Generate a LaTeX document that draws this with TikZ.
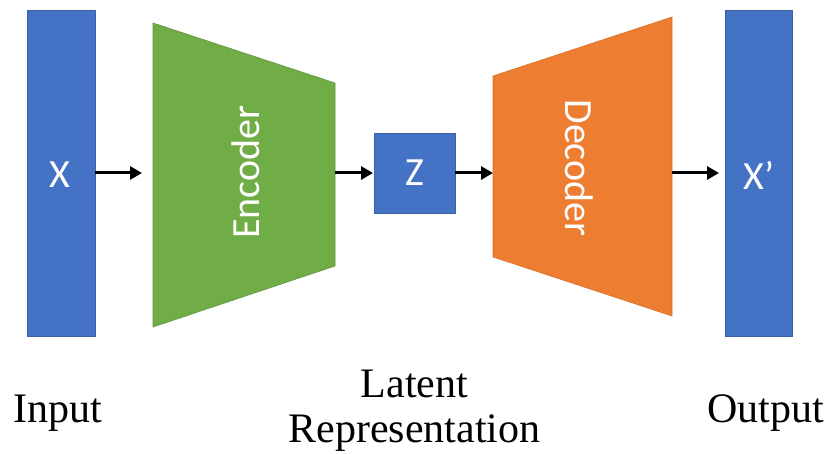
\documentclass[tikz,border=0pt]{standalone}
\usepackage{fontspec}
\setmainfont{Liberation Serif}
\newfontfamily\boxfont{Carlito}
\usetikzlibrary{arrows.meta}
\definecolor{officeblue}{HTML}{4472C4}
\definecolor{officegreen}{HTML}{70AD47}
\definecolor{officeorange}{HTML}{ED7D31}
\begin{document}
\begin{tikzpicture}[x=1pt,y=-1pt,
  bluebox/.style={draw=officeblue!85!black, line width=0.6pt, fill=officeblue,
    inner sep=0pt, text=white, font=\boxfont\fontsize{40}{44}\selectfont},
  layerlabel/.style={text=white, inner sep=0pt, font=\boxfont\fontsize{40}{44}\selectfont},
  caption/.style={inner sep=0pt, anchor=base, font=\fontsize{42}{45}\selectfont},
  flow/.style={line width=3pt, -{Triangle[length=12pt,width=13pt]}}]
  % canvas
  \useasboundingbox (0,0) rectangle (827,454);

  % input and output vectors, latent code
  \node[bluebox, minimum width=68pt, minimum height=326pt] (xin) at (61,173) {};
  \node[bluebox, minimum width=81pt, minimum height=80pt] (z) at (414.5,173) {Z};
  \node[bluebox, minimum width=67pt, minimum height=326pt] (xout) at (758.5,173) {};
  \node[layerlabel] (xintext) at (60,175) {X};
  \node[layerlabel] (xouttext) at (759,175) {X’};

  % encoder and decoder trapezoids
  \path[fill=officegreen, draw=officegreen!85!black, line width=0.6pt]
    (153,23) -- (335,83) -- (335,266) -- (153,327) -- cycle;
  \path[fill=officeorange, draw=officeorange!90!black, line width=0.6pt]
    (493,76) -- (672,17) -- (672,316) -- (493,257) -- cycle;
  \node[layerlabel, rotate=90] (enc) at (246,172) {Encoder};
  \node[layerlabel, rotate=-90] (dec) at (579,168) {Decoder};

  % connection points on the trapezoids
  \coordinate (enc-in) at (142,173);
  \coordinate (enc-out) at (335,173);
  \coordinate (dec-in) at (493,173);
  \coordinate (dec-out) at (672,173);
  \coordinate (xout-in) at (719,173);
  \coordinate (z-in) at (373,173);

  % data flow
  \draw[flow] (xin.east) -- (enc-in);
  \draw[flow] (enc-out) -- (z-in);
  \draw[flow] (z.east) -- (dec-in);
  \draw[flow] (dec-out) -- (xout-in);

  % captions
  \node[caption] (lin) at (58,422) {Input};
  \node[caption] (llat) at (414.5,397) {Latent};
  \node[caption] (lrep) at (414.5,442) {Representation};
  \node[caption] (lout) at (765.5,422) {Output};
\end{tikzpicture}
\end{document}
